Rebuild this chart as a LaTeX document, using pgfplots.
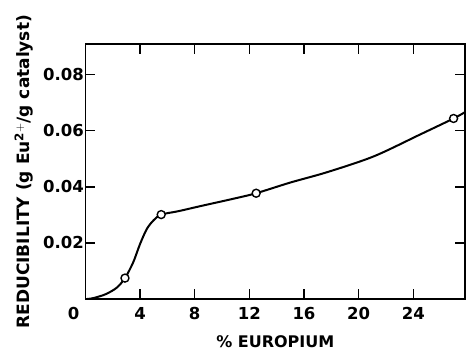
\documentclass[border=0pt]{standalone}
\usepackage{fontspec}
\setmainfont{DejaVu Sans}
\usepackage{pgfplots}
\pgfplotsset{compat=1.18}
\usetikzlibrary{calc}
\begin{document}
\begin{tikzpicture}[x=1pt,y=1pt]
\begin{axis}[
  scale only axis,
  width=380pt, height=255pt,
  xmin=0, xmax=27.8, ymin=0, ymax=0.0907,
  axis line style={line width=1.6pt},
  every tick/.style={black, line width=1.5pt},
  major tick length=10pt,
  tick align=inside,
  xtick={0,4,8,12,16,20,24},
  xticklabels={{\makebox[0pt][r]{0\hspace{6pt}}},4,8,12,16,20,24},
  ytick={0.02,0.04,0.06,0.08},
  yticklabels={0.02,0.04,0.06,0.08},
  scaled y ticks=false,
  tick label style={font=\fontsize{16.5}{18}\selectfont\bfseries},
  xticklabel style={yshift=-5pt},
  yticklabel style={xshift=2pt},
  label style={font=\fontsize{16}{18}\selectfont\bfseries},
  xlabel={\% EUROPIUM},
  ylabel={\fontsize{17}{18}\selectfont REDUCIBILITY (g Eu$^{\mathbf{2+}}$/g catalyst)},
  xlabel style={yshift=-9pt},
  ylabel style={yshift=3pt},
  clip=true,
]
\addplot[black, line width=2pt, smooth, tension=0.5] coordinates {
(0,0) (0.6,0.0004) (1.5,0.0018) (2.3,0.0041) (2.9,0.0075) (3.5,0.0131)
(4.0,0.0196) (4.5,0.0250) (5.0,0.0281) (5.55,0.0301) (6.8,0.0313)
(8.5,0.0332) (10.8,0.0357) (12.5,0.0377) (15,0.0415) (17.7,0.0452)
(21.1,0.0508) (24.5,0.0586) (26.95,0.0643) (27.8,0.0666)
};
\addplot[only marks, mark=*, mark size=4pt, mark options={fill=white, draw=black, line width=1.4pt}] coordinates {
(2.9,0.0075) (5.55,0.0301) (12.5,0.0377) (26.95,0.0643)
};
\end{axis}
\path[use as bounding box] ($(current axis.south west)+(-85.4,-49.7)$) rectangle ($(current axis.north east)+(0.6,44.3)$);
\end{tikzpicture}
\end{document}
